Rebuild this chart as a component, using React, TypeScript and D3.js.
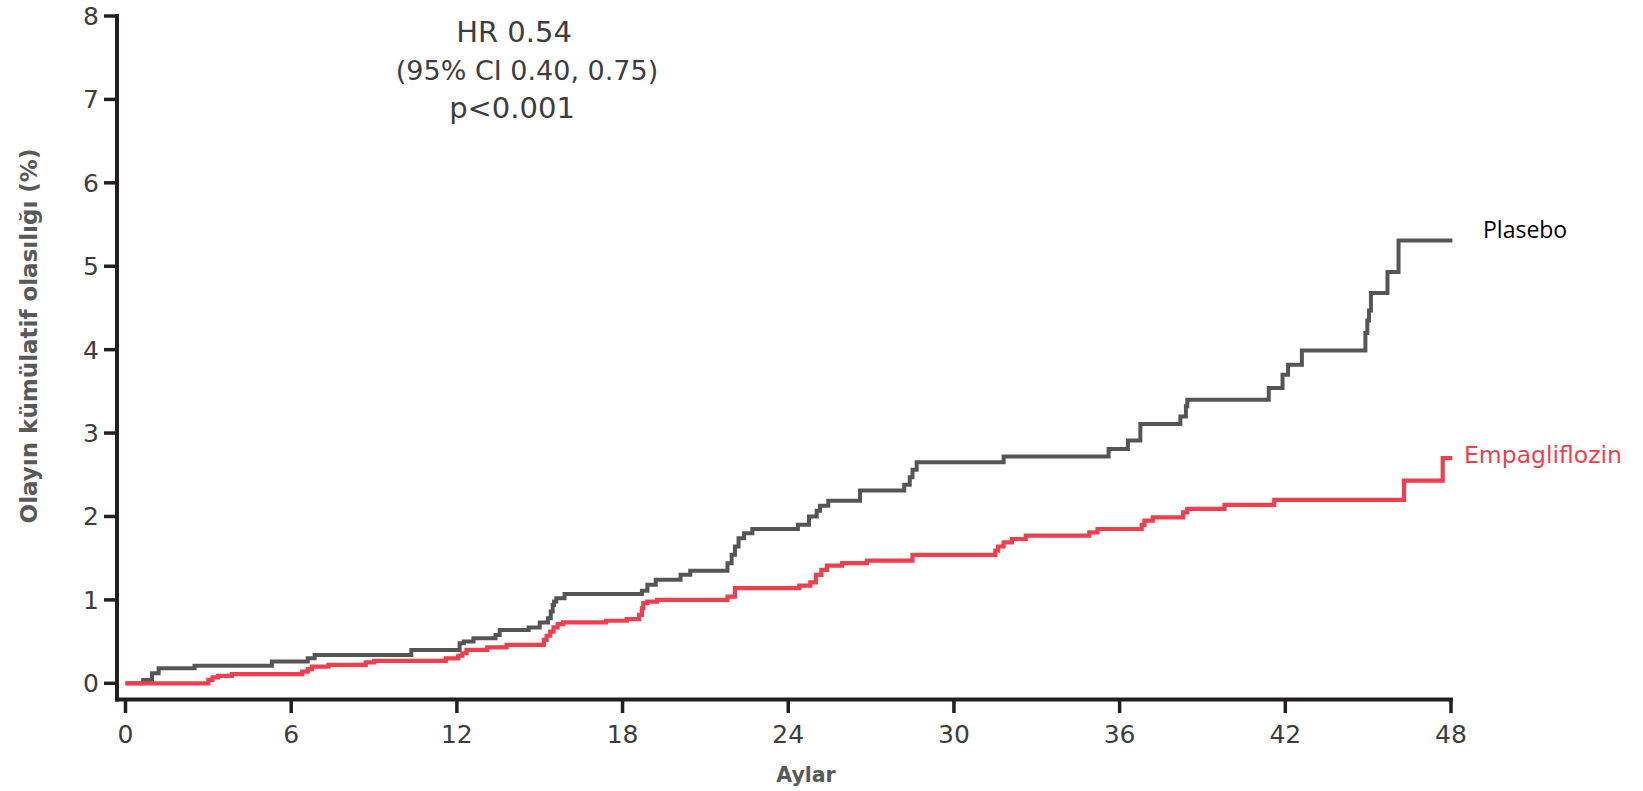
import React from "react";
import * as d3 from "d3";

// Kaplan-Meier style step data (month, cumulative %)
const placeboMonths = [0, 0.64, 0.96, 1.2, 2.5, 5.3, 6.6, 6.85, 10.35, 12.1, 12.25, 12.6, 13.4, 13.55, 14.6, 15.0, 15.3, 15.4, 15.47, 15.52, 15.6, 15.9, 18.7, 18.9, 19.2, 20.1, 20.45, 21.8, 21.95, 22.07, 22.2, 22.4, 22.7, 24.35, 24.75, 25.03, 25.15, 25.45, 26.6, 28.2, 28.4, 28.5, 28.65, 31.8, 35.6, 36.3, 36.75, 38.2, 38.4, 38.45, 41.4, 41.9, 42.1, 42.6, 44.9, 44.97, 45.03, 45.1, 45.7, 46.1];
const placeboValues = [0, 0.04, 0.12, 0.18, 0.21, 0.26, 0.30, 0.34, 0.40, 0.48, 0.50, 0.54, 0.58, 0.64, 0.67, 0.73, 0.78, 0.86, 0.94, 0.98, 1.02, 1.07, 1.11, 1.18, 1.24, 1.30, 1.35, 1.44, 1.54, 1.64, 1.74, 1.80, 1.85, 1.90, 2.00, 2.07, 2.13, 2.19, 2.31, 2.38, 2.47, 2.56, 2.65, 2.72, 2.81, 2.91, 3.11, 3.20, 3.32, 3.40, 3.54, 3.70, 3.82, 3.99, 4.20, 4.35, 4.47, 4.68, 4.93, 5.31];

const empaMonths = [0, 3.0, 3.15, 3.35, 3.85, 6.4, 6.6, 6.75, 7.35, 8.7, 9.0, 11.6, 12.05, 12.2, 12.35, 13.1, 13.8, 15.15, 15.25, 15.38, 15.5, 15.65, 15.85, 17.4, 18.15, 18.6, 18.7, 18.75, 18.9, 19.25, 21.8, 22.07, 24.4, 24.8, 25.0, 25.2, 25.4, 25.95, 26.85, 28.5, 31.5, 31.6, 31.8, 32.1, 32.6, 34.9, 35.2, 36.8, 36.9, 37.2, 38.3, 38.45, 39.8, 41.6, 46.3, 47.7];
const empaValues = [0, 0.04, 0.07, 0.09, 0.11, 0.14, 0.17, 0.20, 0.22, 0.25, 0.27, 0.30, 0.33, 0.36, 0.40, 0.43, 0.46, 0.52, 0.57, 0.62, 0.67, 0.71, 0.73, 0.75, 0.77, 0.82, 0.90, 0.96, 0.98, 1.00, 1.04, 1.14, 1.17, 1.21, 1.30, 1.36, 1.41, 1.44, 1.47, 1.54, 1.59, 1.64, 1.69, 1.73, 1.77, 1.81, 1.85, 1.90, 1.95, 1.99, 2.05, 2.09, 2.14, 2.20, 2.43, 2.70];

const endMonth = 48.05;
const xTicks = [0, 6, 12, 18, 24, 30, 36, 42, 48];
const yTicks = [0, 1, 2, 3, 4, 5, 6, 7, 8];
const annotationLines = ["HR 0.54", "(95% CI 0.40, 0.75)", "p<0.001"];
const seriesNames = ["Plasebo", "Empagliflozin"];
const yTitle = "Olayın kümülatif olasılığı (%)";
const xTitle = "Aylar";

export default function App() {
  const W = 1643, H = 791;
  const x = d3.scaleLinear().domain([0, 48]).range([125.5, 1451]);
  const y = d3.scaleLinear().domain([0, 8]).range([683.3, 16]);

  const mk = (ms: number[], vs: number[]) => {
    const pts: [number, number][] = ms.map((m, i) => [m, vs[i]]);
    pts.push([endMonth, vs[vs.length - 1]]);
    return pts;
  };
  const line = d3
    .line<[number, number]>()
    .x((d) => x(d[0]))
    .y((d) => y(d[1]))
    .curve(d3.curveStepAfter);

  const axisColor = "#231f20";
  const tickFont = "'DejaVu Sans', sans-serif";
  const textColor = "#3d3d3d";
  const axisX = 117;
  const axisY = 699.5;

  return (
    <svg width={W} height={H} style={{ position: "absolute", left: 0, top: 0, background: "#fff" }}>
      {/* y axis */}
      <line x1={axisX} x2={axisX} y1={14} y2={axisY + 2} stroke={axisColor} strokeWidth={4} />
      {yTicks.map((t) => (
        <g key={"y" + t}>
          <line x1={104} x2={axisX} y1={y(t)} y2={y(t)} stroke={axisColor} strokeWidth={3.5} />
          <text x={99} y={y(t)} dy="0.36em" textAnchor="end" fontFamily={tickFont} fontSize={25} fill={textColor}>
            {t}
          </text>
        </g>
      ))}
      {/* x axis */}
      <line x1={axisX - 2} x2={x(48) + 2} y1={axisY} y2={axisY} stroke={axisColor} strokeWidth={4} />
      {xTicks.map((t) => (
        <g key={"x" + t}>
          <line x1={x(t)} x2={x(t)} y1={axisY} y2={713} stroke={axisColor} strokeWidth={3.5} />
          <text x={x(t)} y={743} textAnchor="middle" fontFamily={tickFont} fontSize={25} fill={textColor}>
            {t}
          </text>
        </g>
      ))}
      {/* curves */}
      <path d={line(mk(placeboMonths, placeboValues)) || ""} fill="none" stroke="#555555" strokeWidth={4} />
      <path d={line(mk(empaMonths, empaValues)) || ""} fill="none" stroke="#ef3f4f" strokeWidth={4.2} />
      {/* annotation */}
      <text x={514} y={42} textAnchor="middle" fontFamily={tickFont} fontSize={29} fill={textColor}>
        {annotationLines[0]}
      </text>
      <text x={527} y={80} textAnchor="middle" fontFamily={tickFont} fontSize={27} fill={textColor}>
        {annotationLines[1]}
      </text>
      <text x={512} y={118} textAnchor="middle" fontFamily={tickFont} fontSize={29} fill={textColor}>
        {annotationLines[2]}
      </text>
      {/* series labels */}
      <text x={1483} y={238} fontFamily="'Open Sans', sans-serif" fontSize={23} fill="#000">
        {seriesNames[0]}
      </text>
      <text x={1464} y={463} fontFamily={tickFont} fontSize={23.5} fill="#ef3f4f">
        {seriesNames[1]}
      </text>
      {/* axis titles */}
      <text x={806} y={782} textAnchor="middle" fontFamily={tickFont} fontWeight="bold" fontSize={20.5} fill="#595959">
        {xTitle}
      </text>
      <text
        transform={`translate(37, 336) rotate(-90)`}
        textAnchor="middle"
        fontFamily={tickFont}
        fontWeight="bold"
        fontSize={23}
        fill="#595959"
      >
        {yTitle}
      </text>
    </svg>
  );
}
